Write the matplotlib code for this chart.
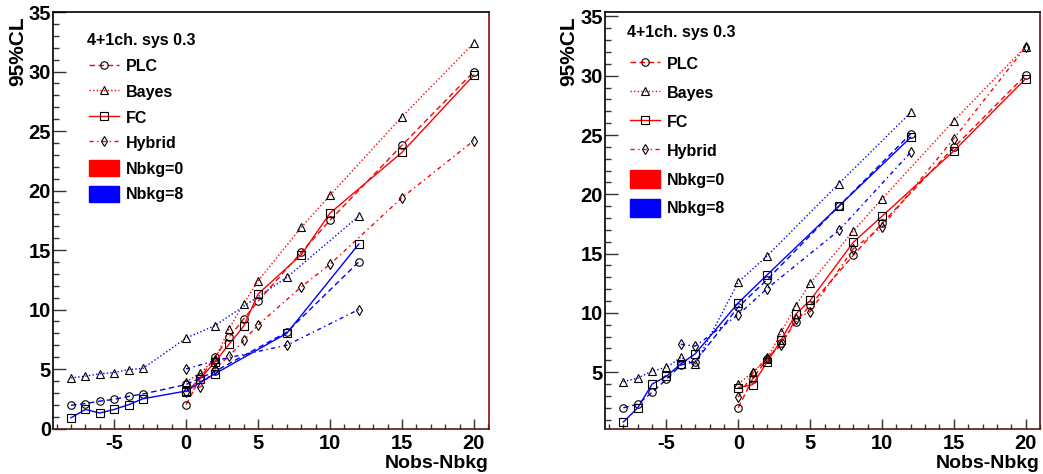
import matplotlib
matplotlib.use('Agg')
import matplotlib.pyplot as plt
from matplotlib.lines import Line2D
from matplotlib.patches import Patch
from matplotlib.ticker import MultipleLocator

plt.rcParams['font.family'] = ['Liberation Sans', 'DejaVu Sans']
plt.rcParams['font.weight'] = 'bold'
plt.rcParams['axes.unicode_minus'] = False

# ---------------- data ----------------
x_nbkg0 = [0, 1, 2, 3, 4, 5, 8, 10, 15, 20]
x_nbkg8 = [-8, -7, -6, -5, -4, -3, 0, 2, 7, 12]
x_hyb8_left = [0, 2, 7, 12]
x_hyb8_right = [-4, -3, 0, 2, 7, 12]

# left panel
L_red_plc = [2.0, 4.3, 6.0, 7.7, 9.2, 10.7, 14.8, 17.5, 23.8, 30.0]
L_red_bayes = [3.9, 4.7, 5.8, 8.4, 10.5, 12.4, 16.9, 19.6, 26.2, 32.4]
L_red_fc = [3.1, 4.2, 5.6, 7.1, 8.6, 11.3, 14.6, 18.1, 23.2, 29.7]
L_red_hyb = [3.1, 3.5, 5.0, 6.1, 7.4, 8.7, 11.9, 13.8, 19.4, 24.2]
L_blue_plc = [1.95, 2.1, 2.3, 2.45, 2.7, 2.9, 3.7, 4.8, 8.1, 14.0]
L_blue_bayes = [4.25, 4.4, 4.6, 4.7, 4.95, 5.05, 7.6, 8.65, 12.7, 17.85]
L_blue_fc = [0.9, 1.6, 1.3, 1.6, 2.0, 2.5, 3.15, 4.6, 8.0, 15.5]
L_blue_hyb = [5.0, 5.7, 7.0, 10.0]

# right panel
R_red_plc = [2.0, 4.45, 6.1, 7.5, 9.25, 10.65, 14.85, 17.55, 23.95, 30.05]
R_red_bayes = [4.0, 5.0, 6.1, 8.4, 10.6, 12.5, 16.9, 19.6, 26.2, 32.45]
R_red_fc = [3.7, 3.95, 5.85, 7.75, 9.9, 11.05, 15.95, 18.15, 23.65, 29.75]
R_red_hyb = [2.9, 4.9, 6.2, 7.3, 9.5, 10.1, 15.4, 17.25, 24.7, 32.4]
R_blue_plc = [2.0, 2.3, 3.3, 4.4, 5.6, 5.9, 10.5, 12.8, 19.0, 25.1]
R_blue_bayes = [4.2, 4.5, 5.1, 5.4, 6.25, 5.65, 12.6, 14.8, 20.9, 26.9]
R_blue_fc = [0.8, 2.0, 4.0, 4.65, 5.7, 6.55, 10.85, 13.2, 19.0, 24.8]
R_blue_hyb = [7.35, 7.2, 9.85, 12.05, 16.95, 23.55]

methods = ['PLC', 'Bayes', 'FC', 'Hybrid']
legend_title = '4+1ch. sys 0.3'
bkg_labels = ['Nbkg=0', 'Nbkg=8']
x_label = 'Nobs-Nbkg'
y_label = '95%CL'

# ---------------- styles ----------------
RED = '#ff0000'
BLUE = '#0000ff'
style = {
    'PLC':    dict(marker='o', ls=(0, (4, 2.5))),
    'Bayes':  dict(marker='^', ls=(0, (1, 1.6))),
    'FC':     dict(marker='s', ls='-'),
    'Hybrid': dict(marker='d', ls=(0, (3, 2.5, 1, 2.5))),
}


def draw(ax, x, y, method, color):
    st = style[method]
    ax.plot(x, y, color=color, lw=1.0, linestyle=st['ls'], marker=st['marker'],
            ms=5.4, mfc='none', mec='black', mew=0.8, zorder=3)


def setup(ax, xlim, ylim, ylab_x):
    ax.set_xlim(*xlim)
    ax.set_ylim(*ylim)
    ax.xaxis.set_major_locator(MultipleLocator(5))
    ax.xaxis.set_minor_locator(MultipleLocator(1))
    ax.yaxis.set_major_locator(MultipleLocator(5))
    ax.yaxis.set_minor_locator(MultipleLocator(1))
    ax.tick_params(axis='both', which='both', direction='in', top=False, right=False,
                   colors='#333333', labelcolor='black', width=1.0)
    ax.tick_params(axis='x', which='major', length=7.5, pad=4, labelsize=14.5)
    ax.tick_params(axis='x', which='minor', length=3.8)
    ax.tick_params(axis='y', which='major', length=9, pad=1.5, labelsize=14.5)
    ax.tick_params(axis='y', which='minor', length=4.5)
    for lab in ax.get_xticklabels() + ax.get_yticklabels():
        lab.set_fontweight('bold')
    ax.spines['top'].set_color('black')
    ax.spines['left'].set_color('black')
    ax.spines['right'].set_color('#7a1010')
    ax.spines['bottom'].set_color('#5a1515')
    for s in ax.spines.values():
        s.set_linewidth(1.2)
    ax.set_xlabel(x_label, fontsize=14, fontweight='bold', loc='right')
    ax.xaxis.set_label_coords(1.0, -0.063)
    ax.xaxis.label.set_va('top')
    ax.set_ylabel(y_label, fontsize=15, fontweight='bold', loc='top')
    ax.yaxis.set_label_coords(ylab_x, 0.988)


def legend(ax, title_xy, anchor, labelspacing, handleheight):
    ax.text(title_xy[0], title_xy[1], legend_title, transform=ax.transAxes,
            fontsize=11.5, fontweight='bold', ha='left', va='center')
    handles = []
    for m in methods:
        st = style[m]
        handles.append(Line2D([], [], color=RED, lw=1.0, linestyle=st['ls'], marker=st['marker'],
                              ms=5.4, mfc='none', mec='black', mew=0.8))
    handles.append(Patch(facecolor=RED, edgecolor=RED))
    handles.append(Patch(facecolor=BLUE, edgecolor=BLUE))
    labels = methods + bkg_labels
    leg = ax.legend(handles, labels, loc='upper left', bbox_to_anchor=anchor,
                    frameon=False, prop=dict(size=11.5, weight='bold'),
                    handlelength=1.85, handleheight=handleheight, handletextpad=0.45,
                    labelspacing=labelspacing, borderpad=0, borderaxespad=0,
                    numpoints=1)
    return leg


fig = plt.figure(figsize=(10.43, 4.74), dpi=100)
ax1 = fig.add_axes([53 / 1043, 45.5 / 474, 436 / 1043, 416.8 / 474])
ax2 = fig.add_axes([605 / 1043, 45.5 / 474, 435 / 1043, 416.8 / 474])

# left panel
draw(ax1, x_nbkg0, L_red_plc, 'PLC', RED)
draw(ax1, x_nbkg0, L_red_bayes, 'Bayes', RED)
draw(ax1, x_nbkg0, L_red_fc, 'FC', RED)
draw(ax1, x_nbkg0, L_red_hyb, 'Hybrid', RED)
draw(ax1, x_nbkg8, L_blue_plc, 'PLC', BLUE)
draw(ax1, x_nbkg8, L_blue_bayes, 'Bayes', BLUE)
draw(ax1, x_nbkg8, L_blue_fc, 'FC', BLUE)
draw(ax1, x_hyb8_left, L_blue_hyb, 'Hybrid', BLUE)
setup(ax1, (-9.25, 21.05), (0, 35.03), -0.06)
legend(ax1, (0.078, 0.932), (0.0826, 0.889), 0.58, 1.15)

# right panel
draw(ax2, x_nbkg0, R_red_plc, 'PLC', RED)
draw(ax2, x_nbkg0, R_red_bayes, 'Bayes', RED)
draw(ax2, x_nbkg0, R_red_fc, 'FC', RED)
draw(ax2, x_nbkg0, R_red_hyb, 'Hybrid', RED)
draw(ax2, x_nbkg8, R_blue_plc, 'PLC', BLUE)
draw(ax2, x_nbkg8, R_blue_bayes, 'Bayes', BLUE)
draw(ax2, x_nbkg8, R_blue_fc, 'FC', BLUE)
draw(ax2, x_hyb8_right, R_blue_hyb, 'Hybrid', BLUE)
setup(ax2, (-9.28, 21.0), (0.25, 35.4), -0.062)
legend(ax2, (0.0506, 0.949), (0.0575, 0.896), 0.68, 1.35)

fig.savefig('out.png', dpi=100)
